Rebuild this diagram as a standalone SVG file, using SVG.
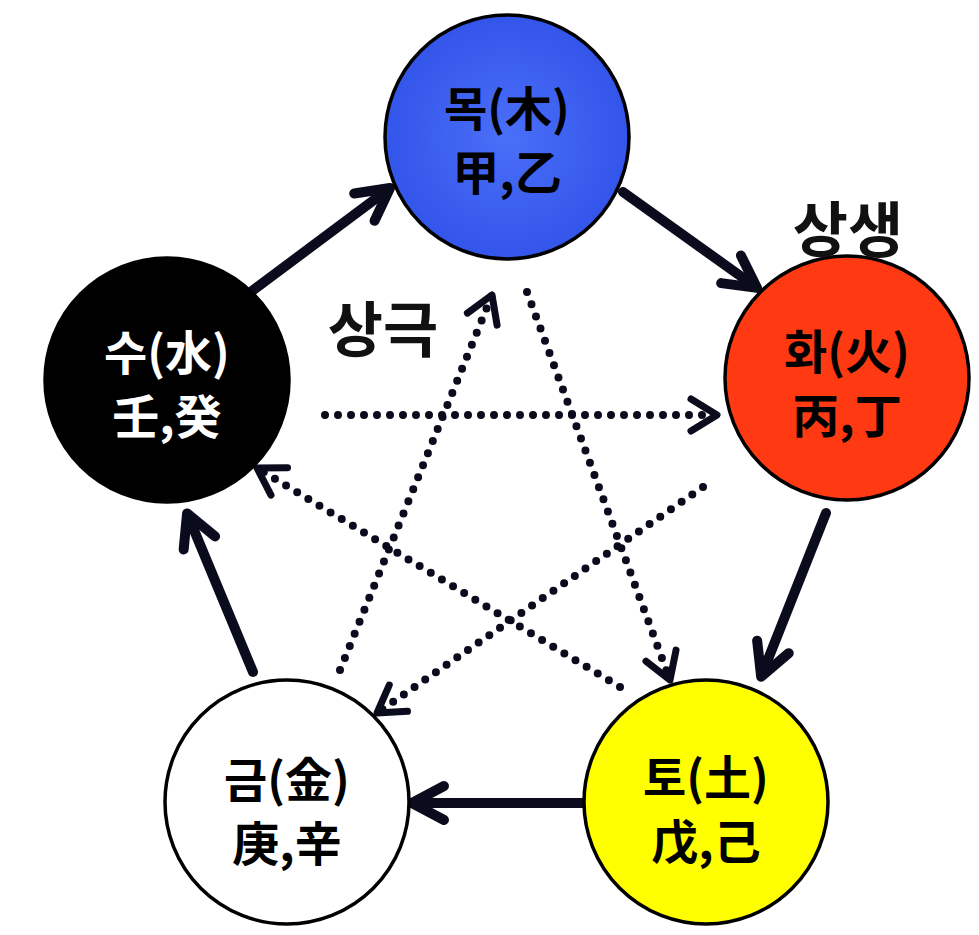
<svg xmlns="http://www.w3.org/2000/svg" width="979" height="935" viewBox="0 0 979 935">
<style>
.node{stroke:#000;stroke-width:3.5}
.t{font-family:"Noto Sans CJK KR","Noto Sans",sans-serif;font-weight:700;font-size:47px;text-anchor:middle;fill:#000}
.w{fill:#fff}
.lbl{font-family:"Noto Sans CJK KR","Noto Sans",sans-serif;font-weight:700;font-size:60px;text-anchor:middle;fill:#111}
.solid{fill:none;stroke:#0b0b1e;stroke-width:10;stroke-linecap:round;marker-end:url(#ah)}
.dot{fill:none;stroke:#0b0b1e;stroke-width:8;stroke-linecap:round;stroke-dasharray:0 13;marker-end:url(#dh)}
</style>
<defs>
<marker id="ah" markerUnits="userSpaceOnUse" orient="auto" refX="0" refY="0" markerWidth="60" markerHeight="60" viewBox="-40 -30 60 60" overflow="visible">
<path d="M -27 -17 L 5 0 L -27 17" fill="none" stroke="#0b0b1e" stroke-width="10" stroke-linecap="round" stroke-linejoin="round"/>
</marker>
<marker id="dh" markerUnits="userSpaceOnUse" orient="auto" refX="0" refY="0" markerWidth="60" markerHeight="60" viewBox="-40 -30 60 60" overflow="visible">
<path d="M -26 -16 L 0 0 L -26 16" fill="none" stroke="#0b0b1e" stroke-width="7" stroke-linecap="round" stroke-linejoin="round"/>
</marker>
<radialGradient id="blue" cx="0.5" cy="0.5" r="0.5">
<stop offset="0" stop-color="#4a6ff8"/>
<stop offset="1" stop-color="#3355ea"/>
</radialGradient>
</defs>
<g id="connectors">
<path class="solid" d="M 252 291 L 386 191"/>
<path class="solid" d="M 623 192 L 753 285"/>
<path class="solid" d="M 826 513 L 763 672"/>
<path class="solid" d="M 583 803 L 417 803"/>
<path class="solid" d="M 253 672 L 189 518"/>
<path class="dot" d="M 325 415 L 717 415"/>
<path class="dot" d="M 340 670 L 492 295"/>
<path class="dot" d="M 527 292 L 670 680"/>
<path class="dot" d="M 703 487 L 377 713"/>
<path class="dot" d="M 620 687 L 257 468"/>
</g>
<g id="wood">
<circle class="node" cx="507" cy="137" r="122" fill="url(#blue)"/>
<text class="t"><tspan x="507" y="126">목(木)</tspan><tspan x="507" y="190">甲,乙</tspan></text>
</g>
<g id="fire">
<circle class="node" cx="847" cy="378" r="122" fill="#ff3a12"/>
<text class="t"><tspan x="847" y="369">화(火)</tspan><tspan x="847" y="433">丙,丁</tspan></text>
</g>
<g id="earth">
<circle class="node" cx="706" cy="802" r="122" fill="#ffff00"/>
<text class="t"><tspan x="706" y="795">토(土)</tspan><tspan x="706" y="859">戊,己</tspan></text>
</g>
<g id="metal">
<circle class="node" cx="287" cy="802" r="122" fill="#ffffff"/>
<text class="t"><tspan x="287" y="797">금(金)</tspan><tspan x="287" y="861">庚,辛</tspan></text>
</g>
<g id="water">
<circle class="node" cx="167" cy="380" r="122" fill="#000000"/>
<text class="t w"><tspan x="167" y="370">수(水)</tspan><tspan x="167" y="434">壬,癸</tspan></text>
</g>
<g id="labels">
<text class="lbl" x="848" y="252">상생</text>
<text class="lbl" x="383" y="352">상극</text>
</g>
</svg>
